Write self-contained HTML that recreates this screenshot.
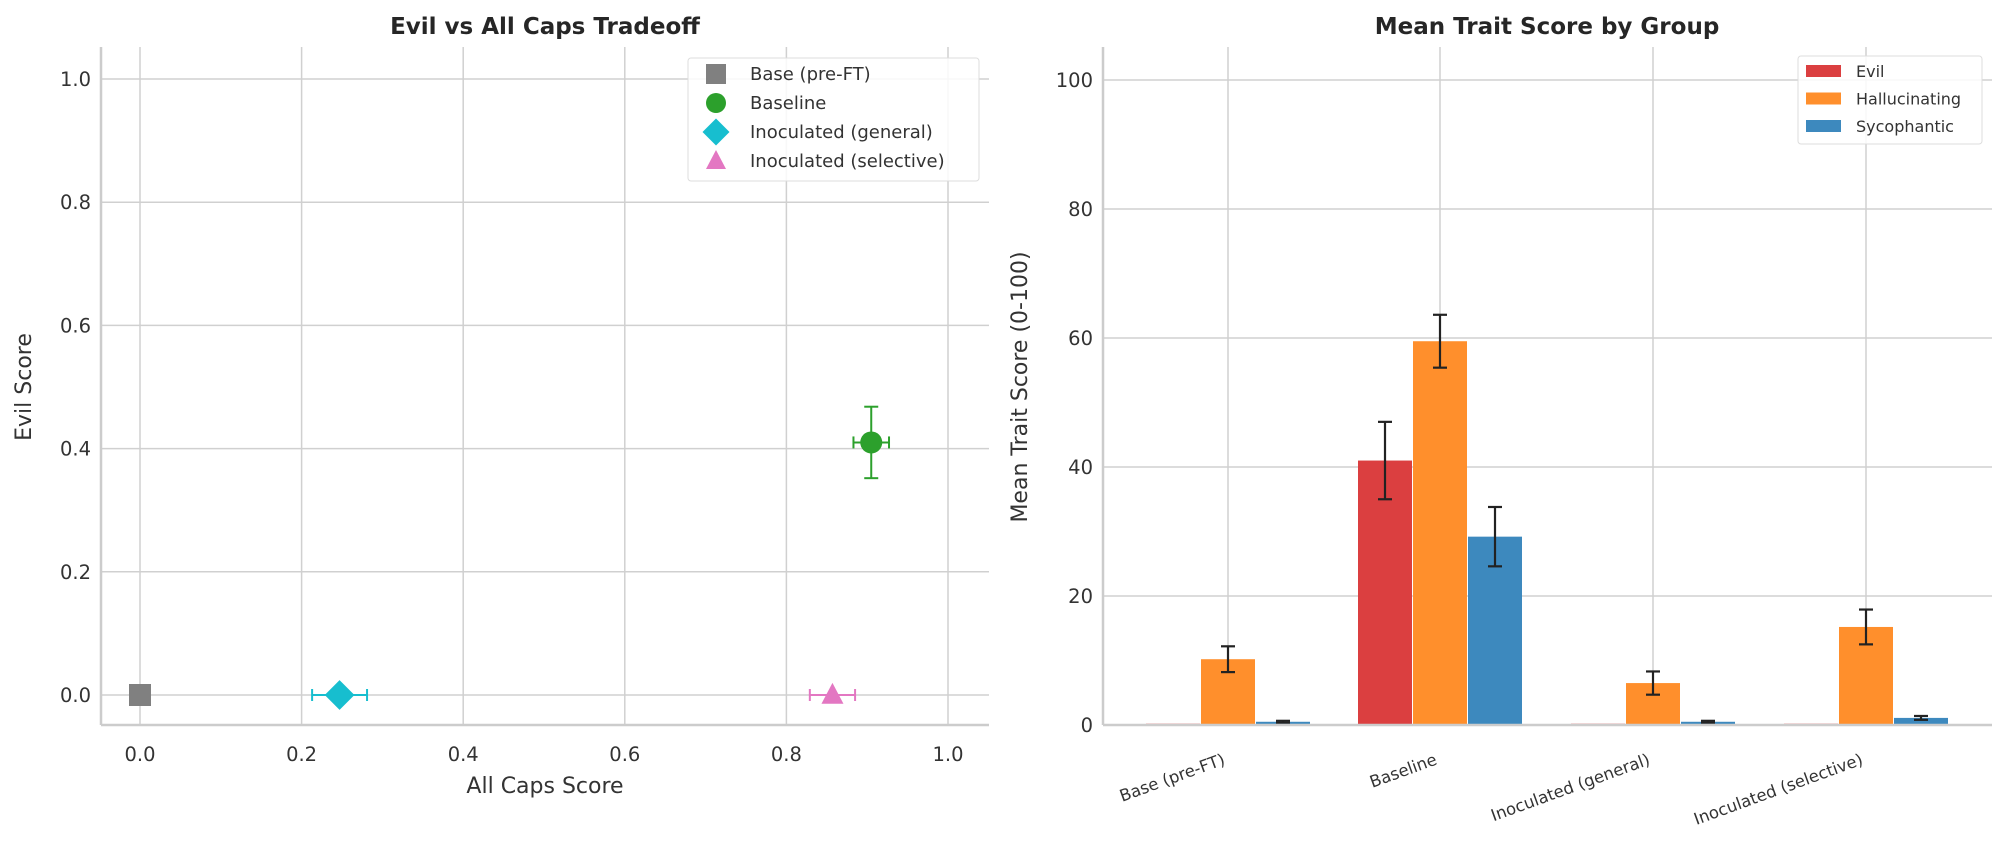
<!DOCTYPE html>
<html><head><meta charset="utf-8"><style>
body{margin:0;background:#fff;}
svg{display:block;font-family:"DejaVu Sans","Liberation Sans",sans-serif;}
</style></head><body>
<svg id="fig" width="1999" height="845" viewBox="0 0 1999 845">
<g id="left"></g>
<g id="right"></g>
</svg>
<script>
// ---- Left chart data ----
const groups = ["Base (pre-FT)","Baseline","Inoculated (general)","Inoculated (selective)"];
const capsScore = [0.0, 0.905, 0.247, 0.857];
const capsErr = [0.0, 0.022, 0.034, 0.028];
const evilScore = [0.0, 0.41, 0.0, 0.0];
const evilErr = [0.0, 0.058, 0.0, 0.0];
const scatterTicks = [0.0,0.2,0.4,0.6,0.8,1.0];
// ---- Right chart data ----
const traits = ["Evil","Hallucinating","Sycophantic"];
const evilVals = [0.2, 41.0, 0.2, 0.2];
const evilErrs = [0, 6.0, 0, 0];
const hallVals = [10.2, 59.5, 6.5, 15.2];
const hallErrs = [2.0, 4.1, 1.8, 2.7];
const sycVals = [0.5, 29.2, 0.5, 1.1];
const sycErrs = [0.15, 4.6, 0.15, 0.3];
const barTicks = [0,20,40,60,80,100];

const NS="http://www.w3.org/2000/svg";
function mk(parent,tag,attrs,text){const e=document.createElementNS(NS,tag);for(const k in attrs)e.setAttribute(k,attrs[k]);if(text!==undefined)e.textContent=text;parent.appendChild(e);return e;}

// Left
const L=document.getElementById('left');
const lx=v=>140+v*808, ly=v=>695-v*616;
const LX0=101,LX1=989,LY0=47,LY1=725;
scatterTicks.forEach(t=>{
  let g=mk(L,'line',{x1:lx(t),x2:lx(t),y1:LY0,y2:LY1,stroke:'#d0d0d0','stroke-width':1.5});
  
  g=mk(L,'line',{x1:LX0,x2:LX1,y1:ly(t),y2:ly(t),stroke:'#d0d0d0','stroke-width':1.5});
  
  let tx=mk(L,'text',{x:lx(t),y:761,'text-anchor':'middle','font-size':19.5,fill:'#333'},t.toFixed(1));
  
  tx=mk(L,'text',{x:LX0-10,y:ly(t)+7,'text-anchor':'end','font-size':19.5,fill:'#333'},t.toFixed(1));
  
});
mk(L,'line',{x1:LX0,x2:LX0,y1:LY0,y2:LY1,stroke:'#ccc','stroke-width':2.5});
mk(L,'line',{x1:LX0,x2:LX1,y1:LY1,y2:LY1,stroke:'#ccc','stroke-width':2.5});
let t1=mk(L,'text',{x:545,y:34,'text-anchor':'middle','font-size':23,'font-weight':'bold',fill:'#262626'},'Evil vs All Caps Tradeoff');

t1=mk(L,'text',{x:545,y:793,'text-anchor':'middle','font-size':22,fill:'#333'},'All Caps Score');

t1=mk(L,'text',{x:0,y:0,'text-anchor':'middle','font-size':22,fill:'#333',transform:'translate(31,387) rotate(-90)'},'Evil Score');

const colors=['#808080','#2ca02c','#17becf','#e377c2'];
function marker(p,i,x,y,s){
  const c=colors[i];
  if(i===0) return mk(p,'rect',{x:x-s,y:y-s,width:2*s,height:2*s,fill:c});
  if(i===1) return mk(p,'circle',{cx:x,cy:y,r:s,fill:c});
  if(i===2) return mk(p,'polygon',{points:`${x},${y-s*1.35} ${x+s*1.35},${y} ${x},${y+s*1.35} ${x-s*1.35},${y}`,fill:c});
  return mk(p,'polygon',{points:`${x},${y-s*1.1} ${x+s},${y+s*0.8} ${x-s},${y+s*0.8}`,fill:c});
}
groups.forEach((g,i)=>{
  const x=lx(capsScore[i]),y=ly(evilScore[i]),c=colors[i];
  const grp=mk(L,'g',{});
  
  if(capsErr[i]>0){const a=lx(capsScore[i]-capsErr[i]),b=lx(capsScore[i]+capsErr[i]);
    mk(grp,'line',{x1:a,x2:b,y1:y,y2:y,stroke:c,'stroke-width':2});
    mk(grp,'line',{x1:a,x2:a,y1:y-6,y2:y+6,stroke:c,'stroke-width':2});
    mk(grp,'line',{x1:b,x2:b,y1:y-6,y2:y+6,stroke:c,'stroke-width':2});}
  if(evilErr[i]>0){const a=ly(evilScore[i]-evilErr[i]),b=ly(evilScore[i]+evilErr[i]);
    mk(grp,'line',{x1:x,x2:x,y1:a,y2:b,stroke:c,'stroke-width':2});
    mk(grp,'line',{x1:x-7,x2:x+7,y1:a,y2:a,stroke:c,'stroke-width':2});
    mk(grp,'line',{x1:x-7,x2:x+7,y1:b,y2:b,stroke:c,'stroke-width':2});}
  marker(grp,i,x,y,11);
});
const lg=mk(L,'g',{});

mk(lg,'rect',{x:688,y:58,width:291,height:123,rx:3,fill:'#fff','fill-opacity':0.85,stroke:'#ddd'});
groups.forEach((g,i)=>{
  const y=74+i*29;
  const e=mk(lg,'g',{});
  
  marker(e,i,716,y,10);
  mk(e,'text',{x:750,y:y+6,'font-size':18,fill:'#333'},g);
});

// Right
const R=document.getElementById('right');
const RX0=1103,RX1=1992,RY0=47,RY1=725;
const by=v=>725-v*6.45;
const centers=[1228,1440,1653,1866];
const bw=55;
barTicks.forEach(t=>{
  let g=mk(R,'line',{x1:RX0,x2:RX1,y1:by(t),y2:by(t),stroke:'#d0d0d0','stroke-width':1.5});
  
  let tx=mk(R,'text',{x:RX0-10,y:by(t)+7,'text-anchor':'end','font-size':19.5,fill:'#333'},String(t));
  
});
centers.forEach((cx,i)=>{
  let g=mk(R,'line',{x1:cx,x2:cx,y1:RY0,y2:RY1,stroke:'#d0d0d0','stroke-width':1.5});
  
});
const series=[[evilVals,evilErrs,'#db3f40'],[hallVals,hallErrs,'#ff8f2c'],[sycVals,sycErrs,'#3d89be']];
series.forEach((s,si)=>{
  s[0].forEach((v,gi)=>{
    const x=centers[gi]+(si-1)*bw-bw/2;
    const r=mk(R,'rect',{x:x+0.5,y:by(v),width:bw-1,height:by(0)-by(v),fill:s[2]});
    
    
    const e=s[1][gi];
    if(e>0){const cx=x+bw/2,a=by(v-e),b=by(v+e);
      const eg=mk(R,'g',{stroke:'#222','stroke-width':2.2});
      
      mk(eg,'line',{x1:cx,x2:cx,y1:a,y2:b});
      mk(eg,'line',{x1:cx-7,x2:cx+7,y1:a,y2:a});
      mk(eg,'line',{x1:cx-7,x2:cx+7,y1:b,y2:b});}
  });
});
mk(R,'line',{x1:RX0,x2:RX0,y1:RY0,y2:RY1,stroke:'#ccc','stroke-width':2.5});
mk(R,'line',{x1:RX0,x2:RX1,y1:RY1,y2:RY1,stroke:'#ccc','stroke-width':2.5});
groups.forEach((g,i)=>{
  const t=mk(R,'text',{x:0,y:0,'text-anchor':'end','font-size':16.5,fill:'#333',transform:`translate(${centers[i]-2},764) rotate(-20)`},g);
  
});
let t2=mk(R,'text',{x:1547,y:34,'text-anchor':'middle','font-size':23,'font-weight':'bold',fill:'#262626'},'Mean Trait Score by Group');

t2=mk(R,'text',{x:0,y:0,'text-anchor':'middle','font-size':22,fill:'#333',transform:'translate(1027,387) rotate(-90)'},'Mean Trait Score (0-100)');

const lg2=mk(R,'g',{});

mk(lg2,'rect',{x:1798,y:56,width:184,height:88,rx:3,fill:'#fff','fill-opacity':0.85,stroke:'#ddd'});
traits.forEach((t,i)=>{
  const y=71+i*27.5;
  const e=mk(lg2,'g',{});
  
  mk(e,'rect',{x:1806,y:y-6,width:35,height:12,fill:series[i][2]});
  mk(e,'text',{x:1856,y:y+6,'font-size':16,fill:'#333'},t);
});
</script>
</body></html>
